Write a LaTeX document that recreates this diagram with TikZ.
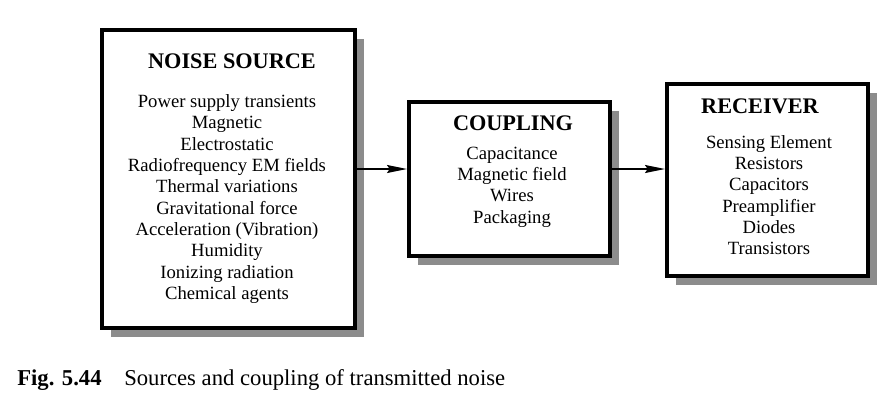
\documentclass[tikz,border=0pt]{standalone}
\usepackage{fontspec}
\setmainfont{Liberation Serif}
\usetikzlibrary{arrows.meta, positioning, shadows}
\definecolor{cshadow}{gray}{0.55}
\tikzset{
  every picture/.style={x=0.75pt, y=-0.75pt},
  block/.style={draw=black, fill=white, line width=3pt, minimum width=#1},
  heading/.style={font=\fontsize{16.7}{20}\selectfont\bfseries, inner sep=0pt},
  items/.style={font=\fontsize{14}{16}\selectfont, align=center, inner sep=0pt},
  shade/.style={drop shadow={shadow xshift=7pt, shadow yshift=-7pt, fill=cshadow, opacity=1}},
  link/.style={-{Stealth[length=15pt, width=6pt, inset=2pt]}, line width=1.1pt},
}

\begin{document}
\begin{tikzpicture}
  \useasboundingbox (0,0) rectangle (889,408);
  % ---------------- the three boxes
  \node[block=189.75pt, minimum height=223.5pt, shade] (noise) at (228.5,179) {};
  \node[block=150.75pt, minimum height=115.5pt, shade] (coupling) at (509.5,179) {};
  \node[block=150.75pt, minimum height=144pt, shade] (receiver) at (767.5,180) {};
  % ---------------- headings and lists
  \node[heading] (noisehead) at (232,61) {NOISE SOURCE};
  \node[items] (noiselist) at (227,199) {Power supply transients\\ Magnetic\\ Electrostatic\\
    Radiofrequency EM fields\\ Thermal variations\\ Gravitational force\\
    Acceleration (Vibration)\\ Humidity\\ Ionizing radiation\\ Chemical agents};
  \node[heading] (couplinghead) at (513,123) {COUPLING};
  \node[items] (couplinglist) at (512,187) {Capacitance\\ Magnetic field\\ Wires\\ Packaging};
  \node[heading] (receiverhead) at (760,106) {RECEIVER};
  \node[items] (receiverlist) at (769,195) {Sensing Element\\ Resistors\\ Capacitors\\
    Preamplifier\\ Diodes\\ Transistors};
  % ---------------- arrows
  \draw[link] ([yshift=7.5pt]noise.east) -- ([yshift=7.5pt]coupling.west);
  \draw[link] ([yshift=7.5pt]coupling.east) -- ([yshift=8.25pt]receiver.west);
  % ---------------- caption
  \node[font=\fontsize{17}{20}\selectfont, anchor=base west, inner sep=0pt] (caption) at (17,385)
    {\textbf{Fig. 5.44}\quad Sources and coupling of transmitted noise};
\end{tikzpicture}
\end{document}
